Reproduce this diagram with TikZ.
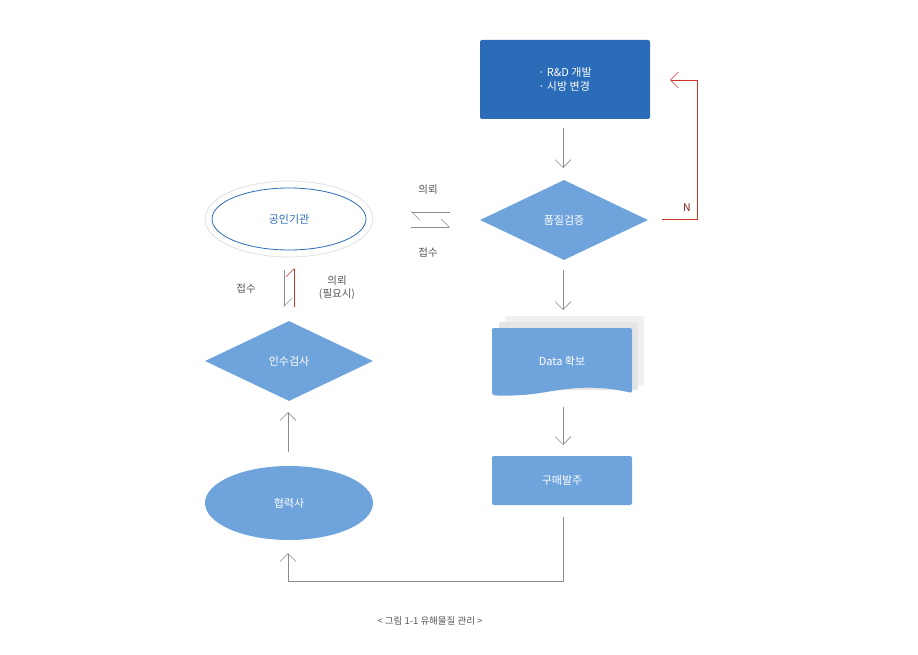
\documentclass[tikz,border=0pt]{standalone}
\usepackage{fontspec}
\setmainfont{Noto Sans CJK KR}
\usetikzlibrary{arrows.meta,shapes.geometric}
\definecolor{dblue}{HTML}{2B6CB8}
\definecolor{lblue}{HTML}{6FA3DC}
\definecolor{gline}{HTML}{8C8C8C}
\definecolor{redl}{HTML}{D0352B}
\definecolor{txt}{HTML}{555555}
\tikzset{
  flow/.style={draw=gline,line width=0.6pt,-{Straight Barb[length=8pt,width=16pt,line width=0.6pt]}},
  harp/.style={draw=gline,line width=0.6pt,-{Straight Barb[harpoon,length=8pt,width=16pt,line width=0.6pt]}},
  harpr/.style={harp,swap},
  lbl/.style={text=txt,font=\fontsize{10.5}{13}\selectfont},
  wt/.style={text=white,font=\fontsize{11}{14}\selectfont},
  dia/.style={diamond,fill=lblue,minimum width=168pt,minimum height=80pt,inner sep=0pt,aspect=2.1},
}
\begin{document}
\begin{tikzpicture}[x=1pt,y=-1pt]
\useasboundingbox (0,0) rectangle (918,655);
% R&D box
\node[fill=dblue,rounded corners=2pt,minimum width=170pt,minimum height=79pt,wt,align=left] (rd) at (565,79.5) {·\ R\&D 개발\\·\ 시방 변경};
\node[dia] (qv) at (564,220) {};
\node[wt] at (564,220) {품질검증};
% Data box
\fill[fill=black!6,rounded corners=2pt] (505,316) rectangle (644,385);
\fill[fill=black!10,rounded corners=2pt] (499,322) rectangle (638,390);
\fill[fill=lblue,rounded corners=2pt] (492,395) -- (492,328) -- (632,328) -- (632,393) -- (632,393) .. controls (590,383) and (560,390) .. (540,393) .. controls (520,396) and (500,396) .. (492,395) -- cycle;
\node[wt] (data) at (562,361) {Data 확보};
\node[fill=lblue,rounded corners=2pt,minimum width=140pt,minimum height=49pt,wt] (po) at (562,480.5) {구매발주};
\node[ellipse,fill=lblue,minimum width=168pt,minimum height=74pt,wt] (co) at (289,503) {협력사};
\node[dia] (ins) at (289,361) {};
\node[wt] at (289,361) {인수검사};
\node[ellipse,draw=black!12,line width=0.8pt,minimum width=168pt,minimum height=76pt] (lab) at (289,219) {};
\node[ellipse,draw=dblue,line width=0.8pt,minimum width=154pt,minimum height=62pt,text=dblue,font=\fontsize{11}{14}\selectfont] at (289,219) {공인기관};
% flows
\coordinate (a1) at (563,128); \coordinate (a2) at (563,168);
\draw[flow] (a1) -- (a2);
\coordinate (b1) at (563,270); \coordinate (b2) at (563,310);
\draw[flow] (b1) -- (b2);
\coordinate (c1) at (563,407); \coordinate (c2) at (563,445);
\draw[flow] (c1) -- (c2);
\coordinate (d1) at (563,517); \coordinate (d2) at (288,553);
\draw[flow] (d1) -- (563,581) -- (288,581) -- (d2);
\coordinate (e1) at (288,452); \coordinate (e2) at (288,412);
\draw[flow] (e1) -- (e2);
% N loop
\coordinate (n1) at (662,219); \coordinate (n2) at (670,80);
\draw[flow,draw=redl] (n1) -- (697,219) -- (697,80) -- (n2);
\node[text=redl!60!black,font=\fontsize{10.5}{13}\selectfont] at (687,208) {N};
% harpoons
\coordinate (h1) at (450,212); \coordinate (h2) at (411,212);
\draw[harpr] (h1) -- (h2);
\coordinate (h3) at (411,227); \coordinate (h4) at (450,227);
\draw[harpr] (h3) -- (h4);
\node[lbl] at (428,190) {의뢰};
\node[lbl] at (428,253) {접수};
\coordinate (v1) at (284,270); \coordinate (v2) at (284,307);
\draw[harpr] (v1) -- (v2);
\coordinate (v3) at (294,307); \coordinate (v4) at (294,268);
\draw[harpr,draw=redl] (v3) -- (v4);
\node[lbl] at (246,289) {접수};
\node[lbl,align=center] at (337,288) {의뢰\\(필요시)};
\node[lbl,font=\fontsize{9.5}{12}\selectfont] (cap) at (430,621) {< 그림 1-1 유해물질 관리 >};
\end{tikzpicture}
\end{document}
